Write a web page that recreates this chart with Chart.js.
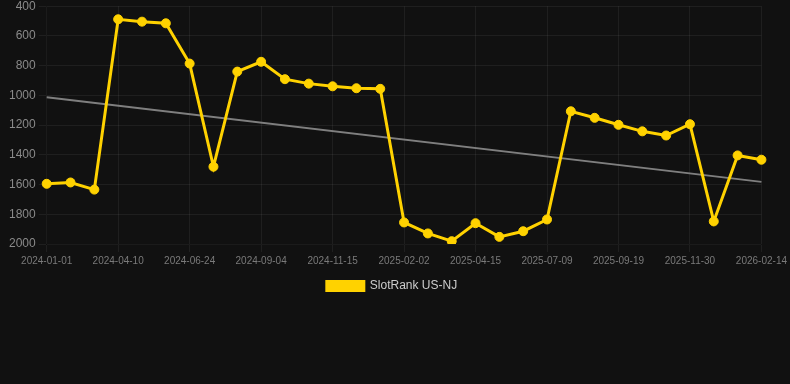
<!DOCTYPE html>
<html>
<head>
<meta charset="utf-8">
<script src="https://cdn.jsdelivr.net/npm/chart.js@4/dist/chart.umd.min.js"></script>
<style>
    body { margin: 0; background: #111111; overflow: hidden; }
    #wrap { position: relative; width: 790px; height: 306px; margin-top: -4px; }
</style>
</head>
<body>
<div id="wrap"><canvas id="g_rank"></canvas></div>
<script>
// fechas de cada punto (solo se ve una de cada tres)
var fechas = [
    '2024-01-01', '2024-02-03', '2024-03-07', '2024-04-10', '2024-05-05', '2024-05-30',
    '2024-06-24', '2024-07-18', '2024-08-11', '2024-09-04', '2024-09-28', '2024-10-22',
    '2024-11-15', '2024-12-11', '2025-01-07', '2025-02-02', '2025-02-26', '2025-03-22',
    '2025-04-15', '2025-05-13', '2025-06-10', '2025-07-09', '2025-08-02', '2025-08-26',
    '2025-09-19', '2025-10-13', '2025-11-06', '2025-11-30', '2025-12-25', '2026-01-20',
    '2026-02-14'
];
var rank = [
    1595, 1586, 1634, 488, 504, 515,
    786, 1480, 840, 774, 891, 921,
    939, 952, 956, 1855, 1929, 1981,
    1860, 1952, 1914, 1835, 1107, 1151,
    1198, 1242, 1270, 1194, 1848, 1404,
    1433
];
// linea de tendencia: solo inicio y fin
var tendencia = [1012].concat(new Array(fechas.length - 2).fill(null)).concat([1582]);

var ticksY = [400, 600, 800, 1000, 1200, 1400, 1600, 1800, 2000];

Chart.defaults.font.family = 'Arial, "Liberation Sans", sans-serif';

var ctx = document.getElementById('g_rank').getContext('2d');
var myChart = new Chart(ctx, {
    type: 'line',
    data: {
        labels: fechas,
        datasets: [{
            label: 'SlotRank US-NJ',
            data: rank,
            borderColor: '#ffd200',
            backgroundColor: '#ffd200',
            borderWidth: 3,
            pointRadius: 4.5,
            pointBorderWidth: 1,
            pointHoverRadius: 5,
            tension: 0
        }, {
            label: 'trend',
            data: tendencia,
            borderColor: 'rgba(140,140,140,0.9)',
            borderWidth: 2,
            pointRadius: 0,
            spanGaps: true
        }]
    },
    options: {
        responsive: true,
        maintainAspectRatio: false,
        animation: false,
        layout: { padding: { left: 6, right: 12 } },
        plugins: {
            legend: {
                position: 'bottom',
                labels: {
                    color: '#cccccc',
                    font: { size: 12 },
                    boxWidth: 37,
                    boxHeight: 9,
                    filter: function (item) { return item.text !== 'trend'; }
                }
            },
            tooltip: { enabled: false }
        },
        scales: {
            x: {
                grid: { color: 'rgba(255,255,255,0.06)' },
                ticks: {
                    color: '#7a7a7a',
                    font: { size: 10 },
                    maxRotation: 0,
                    autoSkip: true,
                    maxTicksLimit: 11
                }
            },
            y: {
                reverse: true,
                min: ticksY[0],
                max: ticksY[ticksY.length - 1],
                grid: { color: 'rgba(255,255,255,0.06)' },
                afterBuildTicks: function (axis) {
                    axis.ticks = ticksY.map(function (v) { return { value: v }; });
                },
                ticks: {
                    color: '#8a8a8a',
                    font: { size: 12 },
                    callback: function (v) { return String(v); }
                }
            }
        }
    }
});
</script>
</body>
</html>
